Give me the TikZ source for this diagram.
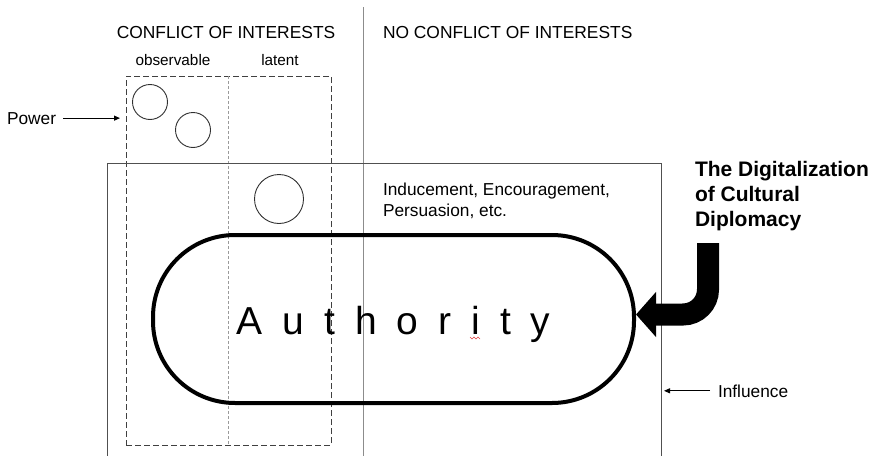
\documentclass[tikz,border=0pt]{standalone}
\usepackage{fontspec}
\setmainfont{Liberation Sans}
\usetikzlibrary{arrows.meta}
\definecolor{divgray}{HTML}{8C8C8C}
\definecolor{framegray}{HTML}{505050}
\definecolor{dashgray}{HTML}{404040}
\definecolor{finegray}{HTML}{9A9A9A}
\definecolor{circgray}{HTML}{303030}
\definecolor{squiggle}{HTML}{E04040}
\begin{document}
\begin{tikzpicture}[x=1pt,y=-1pt,
  every node/.style={inner sep=0pt, outer sep=0pt},
  head/.style={font=\fontsize{17.4}{20}\selectfont},
  sub/.style={font=\fontsize{15.3}{18}\selectfont, anchor=base},
  lbl/.style={font=\fontsize{17.3}{21}\selectfont},
  divider/.style={draw=divgray, line width=1pt},
  frame/.style={draw=framegray, line width=1pt},
  dashbox/.style={draw=dashgray, line width=1pt, dash pattern=on 6pt off 3pt},
  finedash/.style={draw=finegray, line width=0.8pt, dash pattern=on 3pt off 2pt},
  circ/.style={circle, draw=circgray, line width=0.9pt},
  stadium/.style={draw=black, line width=4pt, rounded corners=82pt, minimum width=481pt, minimum height=168pt},
  bigarrow/.style={line width=22pt, rounded corners=25pt, -{Triangle[length=20pt,width=44pt]}},
  thinarrow/.style={line width=1pt, -{Triangle[length=6pt,width=5pt]}}
]
\useasboundingbox (0,0) rectangle (875,455);
\clip (0,0) rectangle (875,455);

% divider
\draw[divider] (363,7) -- (363,470);

% headings
\node[head, anchor=base] (coi) at (226,38) {CONFLICT OF INTERESTS};
\node[head, anchor=base west] (ncoi) at (383,38) {NO CONFLICT OF INTERESTS};
\node[sub] (obs) at (173,65) {observable};
\node[sub] (lat) at (280,65) {latent};

% dashed box
\node[dashbox, minimum width=205pt, minimum height=369pt] (cbox) at (228.5,260.5) {};
\draw[finedash] (cbox.north) -- (cbox.south);

% circles
\node[circ, minimum size=35pt] (c1) at (150,102) {};
\node[circ, minimum size=35pt] (c2) at (193,130) {};
\node[circ, minimum size=49pt] (c3) at (279,199) {};

% power
\node[lbl, anchor=base west] (pow) at (7,124) {Power};
\draw[thinarrow, shorten <=7pt, shorten >=6pt] (pow.east) -- (pow.east -| cbox.west);

% frame
\coordinate (frtr) at (661,163);
\draw[frame] (107,470) |- (frtr) -- (661,470);

% inducement text
\node[lbl, align=left, anchor=north west] (ind) at (383,183) {Inducement, Encouragement,\\Persuasion, etc.};

% authority
\node[stadium, text height=30pt, text depth=0pt, font=\fontsize{39}{39}\selectfont] (auth) at (393.5,319)
  {A\hskip20pt u\hskip20pt t\hskip20pt h\hskip20pt o\hskip20pt r\hskip20pt i\hskip20pt t\hskip20pt y};
\draw[squiggle, line width=0.6pt] (470,337) -- (472,339) -- (474,337) -- (476,339) -- (478,337) -- (480,339);

% digitalization
\node[font=\bfseries\fontsize{21}{25}\selectfont, align=left, anchor=north west] (dig) at (695,161.5)
  {The Digitalization\\of Cultural\\Diplomacy};
\coordinate (dstart) at (708,243);
\coordinate (tip) at ([xshift=2pt,yshift=4.5pt]auth.east);
\draw[bigarrow] (dstart) |- (tip);

% influence
\node[lbl, anchor=base west] (infl) at (718,397) {Influence};
\draw[thinarrow, shorten <=8pt, shorten >=3pt] (infl.west) -- (infl.west -| frtr);
\end{tikzpicture}
\end{document}
